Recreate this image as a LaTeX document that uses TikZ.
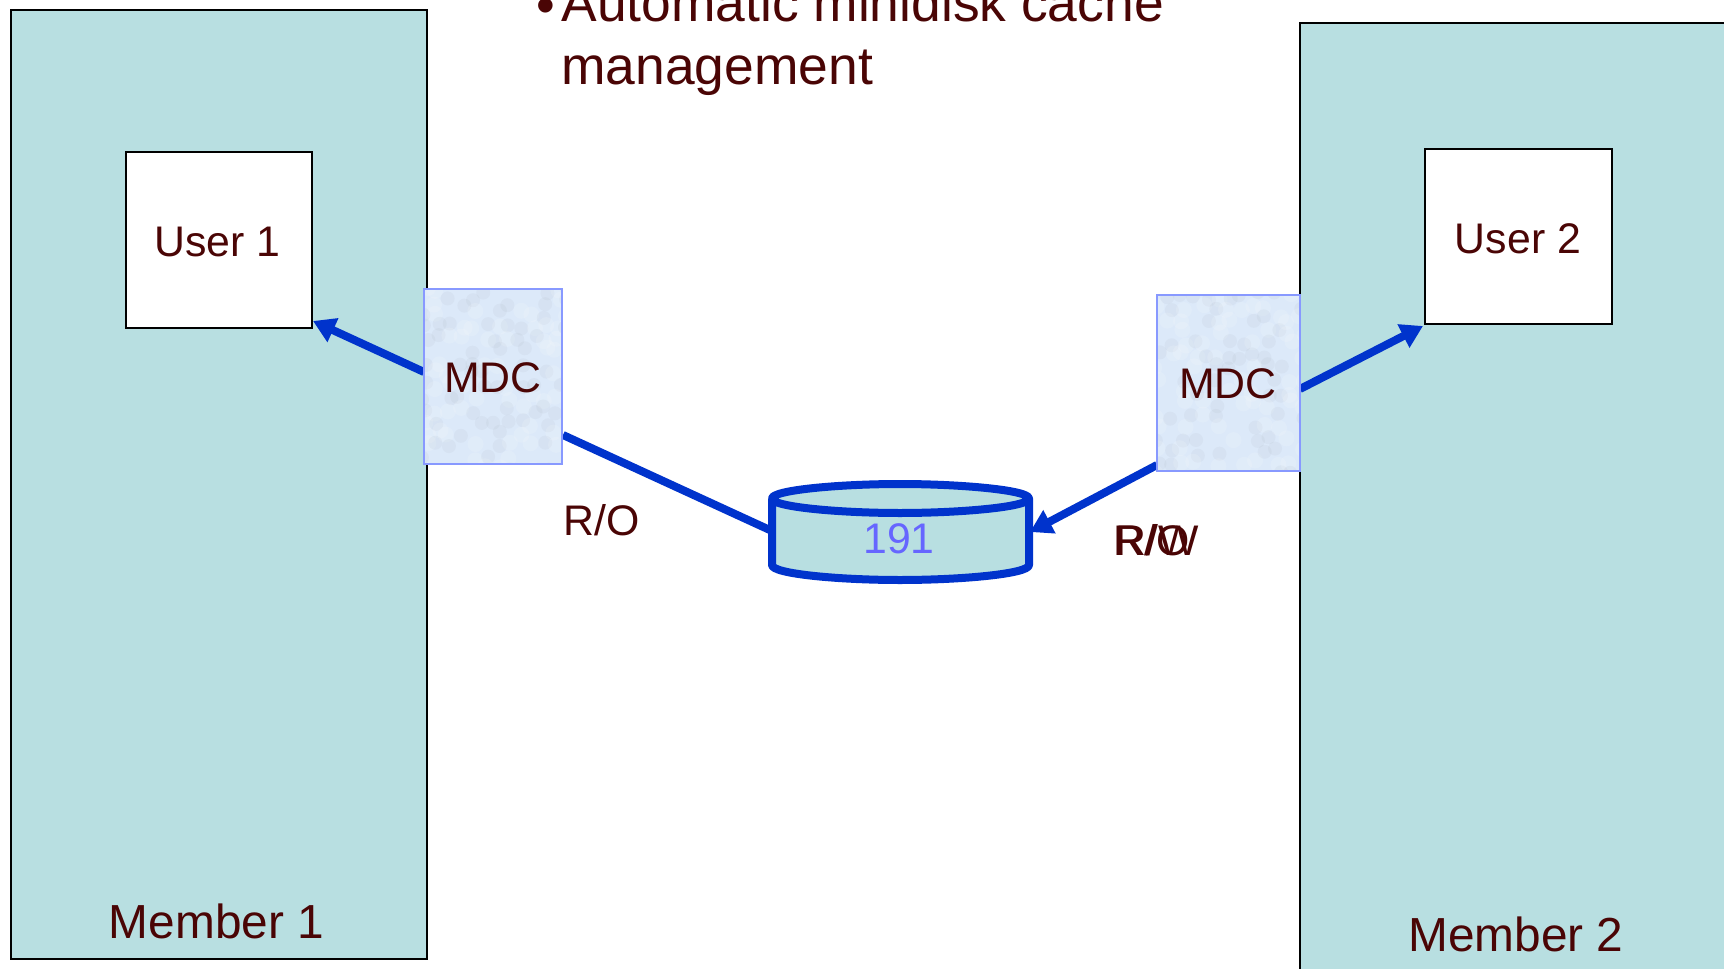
\documentclass[tikz,border=0pt]{standalone}
\usepackage{fontspec}
\setmainfont{Liberation Sans}
\usetikzlibrary{arrows.meta}
\definecolor{teal1}{HTML}{B8DFE1}
\definecolor{txt}{HTML}{4A0505}
\definecolor{lineblue}{HTML}{0033CC}
\definecolor{mdcfill}{HTML}{DCE9F9}
\definecolor{mdcedge}{HTML}{8899FF}
\definecolor{numcol}{HTML}{6666FF}
\tikzset{
  lab/.style={anchor=base,text=txt,inner sep=0pt,font=\fontsize{21.4}{21.4}\selectfont},
  big/.style={anchor=base,text=txt,inner sep=0pt,font=\fontsize{23.9}{23.9}\selectfont},
  head/.style={anchor=base west,text=txt,inner sep=0pt,font=\fontsize{26.7}{26.7}\selectfont},
  memberbox/.style={draw=black,line width=1pt,fill=teal1},
  userbox/.style={draw=black,line width=1pt,fill=white},
  mdcbox/.style={draw=mdcedge,line width=1pt,fill=mdcfill},
  link/.style={draw=lineblue,line width=4pt},
  arrowlink/.style={link,-{Triangle[length=11pt,width=12.5pt]}},
}
\newcommand{\mottle}[4]{%
  \begin{scope}
    \clip (#1,#2) rectangle (#3,#4);
    \pgfmathsetseed{#1}
    \foreach \ix in {0,...,12}{
      \foreach \iy in {0,...,16}{
        \pgfmathsetmacro{\ox}{#1+\ix*12+rnd*8-4}
        \pgfmathsetmacro{\oy}{#2+\iy*12+rnd*8-4}
        \pgfmathtruncatemacro{\pick}{random(0,2)}
        \ifnum\pick=0 \fill[white,opacity=.14] (\ox,\oy) circle (8);\fi
        \ifnum\pick=1 \fill[black!30!mdcfill,opacity=.09] (\ox,\oy) circle (7);\fi
      }
    }
  \end{scope}
}
\begin{document}
\begin{tikzpicture}[x=0.5pt,y=-0.5pt]
\clip (0,0) rectangle (1724,969);
\fill[white] (0,0) rectangle (1724,969);

% members
\path[memberbox] (11,10) rectangle (427,959);
\path[memberbox] (1300,23) rectangle (1760,1010);
\node[big] (m1) at (216.5,938) {Member 1};
\node[big] (m2) at (1516,951) {Member 2};

% users
\path[userbox] (125.5,152) rectangle (312,328);
\path[userbox] (1425,149) rectangle (1611.5,324);
\node[lab] (u1) at (217.5,256) {User 1};
\node[lab] (u2) at (1518,253) {User 2};

% heading
\node[head] (bul) at (536,24) {•};
\node[head] (h1) at (561,21) {Automatic minidisk cache};
\node[head] (h2) at (561,84) {management};

% disk
\path[fill=teal1,draw=lineblue,line width=4pt,line join=round]
  (772,498.5) -- (772,565) .. controls (772,574) and (840,580) .. (900,580) .. controls (960,580) and (1029,574) .. (1029,565)
  -- (1029,498.5) .. controls (1029,490) and (960,484) .. (900,484) .. controls (840,484) and (772,490) .. (772,498.5)
  .. controls (772,507) and (840,513) .. (900,513) .. controls (960,513) and (1029,507) .. (1029,498.5);
\node[lab,text=numcol] (disk) at (899,553) {191};

% named connector ends
\coordinate (c1a) at (424,372);
\coordinate (c1b) at (313,321);
\coordinate (c2a) at (563,435);
\coordinate (c2b) at (772,531);
\coordinate (c3a) at (1157,465);
\coordinate (c3b) at (1030,532);
\coordinate (c4a) at (1300,389);
\coordinate (c4b) at (1423,326);

\draw[arrowlink] (c1a) -- (c1b);
\draw[link] (c2a) -- (c2b);
\draw[arrowlink] (c3a) -- (c3b);
\draw[arrowlink] (c4a) -- (c4b);

% MDC
\path[mdcbox] (424,289) rectangle (562,464);
\mottle{425}{290}{561}{463}
\path[mdcbox,fill=none] (424,289) rectangle (562,464);
\path[mdcbox] (1156.5,295) rectangle (1300,470.5);
\mottle{1158}{296}{1299}{470}
\path[mdcbox,fill=none] (1156.5,295) rectangle (1300,470.5);
\node[lab] (mdc1) at (493,392) {MDC};
\node[lab] (mdc2) at (1228,398) {MDC};

% labels
\node[lab] (ro1) at (601.5,535) {R/O};
\node[lab] (ro2) at (1152,555) {R/O};
\node[lab] (rw2) at (1157,555) {R/W};
\end{tikzpicture}
\end{document}
